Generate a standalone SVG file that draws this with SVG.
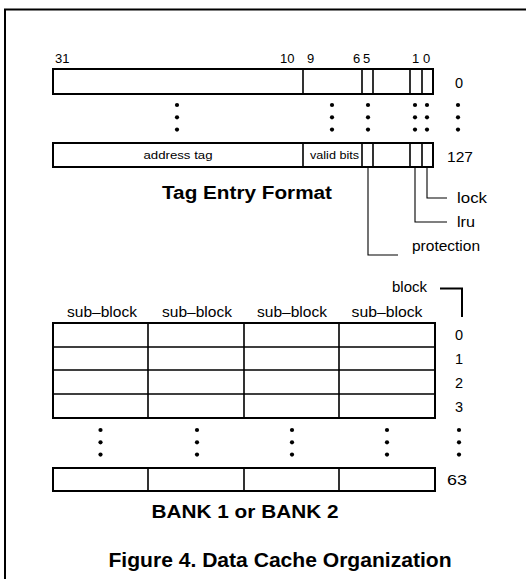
<svg xmlns="http://www.w3.org/2000/svg" width="526" height="579" viewBox="0 0 526 579">
<style>
text{font-family:"Liberation Sans",Arial,sans-serif;fill:#000}
.n{font-size:13px}
.r{font-size:14.5px}
.s{font-size:11.5px}
.m{font-size:14px}
.t{font-size:18px;font-weight:bold}
.box{fill:#fff;stroke:#000;stroke-width:2}
.div{stroke:#000;stroke-width:1.6;fill:none}
.ld{stroke:#000;stroke-width:1.1;fill:none}
.dot{fill:#000}
</style>
<defs>
<g id="vd"><circle cx="0" cy="0" r="2.1"/><circle cx="0" cy="12.3" r="2.1"/><circle cx="0" cy="24.6" r="2.1"/></g>
</defs>
<g id="frame"><path d="M5,579 V9.5 H526" fill="none" stroke="#000" stroke-width="2"/></g>

<g id="tag-bits">
<text class="n" x="55" y="63">31</text>
<text class="n" x="280" y="63">10</text>
<text class="n" x="307" y="63">9</text>
<text class="n" x="353" y="63">6</text>
<text class="n" x="363" y="63">5</text>
<text class="n" x="412" y="63">1</text>
<text class="n" x="423" y="63">0</text>
</g>

<g id="tag-row0">
<rect class="box" x="53" y="69" width="380" height="25"/>
<path class="div" d="M303,69V94M362,69V94M373,69V94M410,69V94M422,69V94"/>
<text class="r" x="455" y="88">0</text>
</g>

<g id="tag-dots" class="dot">
<use href="#vd" x="177" y="105"/>
<use href="#vd" x="332" y="105"/>
<use href="#vd" x="368" y="105"/>
<use href="#vd" x="415" y="105"/>
<use href="#vd" x="427" y="105"/>
<use href="#vd" x="458" y="105"/>
</g>

<g id="tag-row127">
<rect class="box" x="53" y="143" width="380" height="24"/>
<path class="div" d="M303,143V167M362,143V167M373,143V167M410,143V167M422,143V167"/>
<text class="s" x="178" y="159" text-anchor="middle" textLength="69" lengthAdjust="spacingAndGlyphs">address tag</text>
<text class="s" x="334.5" y="159" text-anchor="middle" textLength="49" lengthAdjust="spacingAndGlyphs">valid bits</text>
<text class="r" x="447" y="162" textLength="26" lengthAdjust="spacingAndGlyphs">127</text>
</g>

<g id="tag-title"><text class="t" x="247" y="199" text-anchor="middle" textLength="170" lengthAdjust="spacingAndGlyphs">Tag Entry Format</text></g>

<g id="lbl-lock"><text class="m" x="457" y="203" textLength="30" lengthAdjust="spacingAndGlyphs">lock</text></g>
<g id="lbl-lru"><text class="m" x="457" y="227" textLength="18" lengthAdjust="spacingAndGlyphs">lru</text></g>
<g id="lbl-protection"><text class="m" x="412" y="251" textLength="68" lengthAdjust="spacingAndGlyphs">protection</text></g>

<g id="bank-headers">
<text class="m" x="102" y="317" text-anchor="middle" textLength="70" lengthAdjust="spacingAndGlyphs">sub–block</text>
<text class="m" x="197" y="317" text-anchor="middle" textLength="70" lengthAdjust="spacingAndGlyphs">sub–block</text>
<text class="m" x="292" y="317" text-anchor="middle" textLength="70" lengthAdjust="spacingAndGlyphs">sub–block</text>
<text class="m" x="387" y="317" text-anchor="middle" textLength="71" lengthAdjust="spacingAndGlyphs">sub–block</text>
</g>
<g id="lbl-block"><text class="m" x="392" y="292" textLength="35" lengthAdjust="spacingAndGlyphs">block</text></g>

<g id="bank-grid">
<rect class="box" x="53" y="323" width="382" height="95"/>
<path class="div" d="M53,347H435M53,370H435M53,394H435M148,323V418M244,323V418M339,323V418"/>
<text class="r" x="455" y="340">0</text>
<text class="r" x="455" y="364">1</text>
<text class="r" x="455" y="388">2</text>
<text class="r" x="455" y="412">3</text>
</g>

<g id="bank-dots" class="dot">
<use href="#vd" x="100.5" y="430"/>
<use href="#vd" x="197" y="430"/>
<use href="#vd" x="292" y="430"/>
<use href="#vd" x="387" y="430"/>
<use href="#vd" x="459" y="430"/>
</g>

<g id="bank-row63">
<rect class="box" x="53" y="468" width="382" height="23"/>
<path class="div" d="M148,468V491M244,468V491M339,468V491"/>
<text class="r" x="447" y="485" textLength="20" lengthAdjust="spacingAndGlyphs">63</text>
</g>

<g id="bank-title"><text class="t" x="245" y="518" text-anchor="middle" textLength="187" lengthAdjust="spacingAndGlyphs">BANK 1 or BANK 2</text></g>

<g id="caption"><text class="t" x="280" y="567" text-anchor="middle" style="font-size:20px" textLength="343" lengthAdjust="spacingAndGlyphs">Figure 4. Data Cache Organization</text></g>

<g id="connectors">
<path class="ld" d="M368,167V255H398"/>
<path class="ld" d="M415,167V222H447"/>
<path class="ld" d="M427,167V198H447"/>
<path d="M440,288.5H462V317" fill="none" stroke="#000" stroke-width="2"/>
</g>
</svg>
